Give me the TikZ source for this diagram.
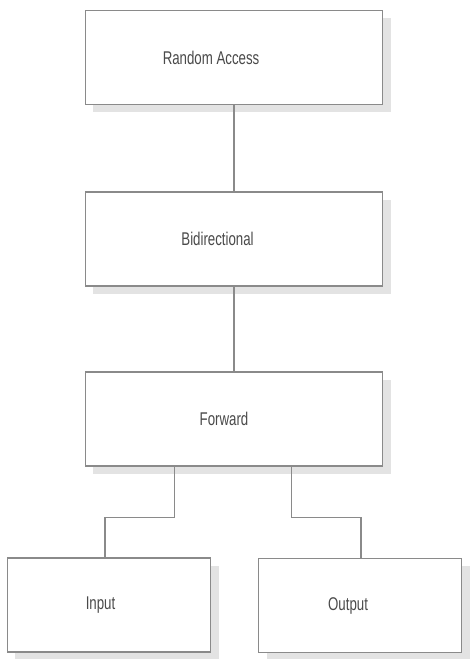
\documentclass[tikz,border=0pt]{standalone}
\usepackage{fontspec}
\newfontfamily\diagfont[FakeStretch=0.72]{Liberation Sans}
\usetikzlibrary{shadows}
\definecolor{edgegray}{HTML}{8A8A8A}
\definecolor{textgray}{HTML}{4A4A4A}
\tikzset{
  box/.style={draw=edgegray,line width=1.2bp,fill=white,minimum width=297bp,
    minimum height=94bp,inner sep=0pt,
    drop shadow={shadow xshift=8bp,shadow yshift=-8bp,fill=black!22}},
  smallbox/.style={box,minimum width=203bp},
  boxtext/.style={font=\diagfont\fontsize{18.5}{21}\selectfont,text=textgray},
  link/.style={draw=edgegray,line width=1.2bp}
}
\begin{document}
\begin{tikzpicture}[x=1bp,y=1bp]
  \useasboundingbox (0,0) rectangle (470,659);

  % access levels
  \node[box] (ra) at (234,601.5) {};
  \node[box] (bi) at (234,420) {};
  \node[box] (fw) at (234,240) {};
  \node[boxtext] (ratext) at ([xshift=-23]ra.center) {Random Access};
  \node[boxtext] (bitext) at ([xshift=-16.5]bi.center) {Bidirectional};
  \node[boxtext] (fwtext) at ([xshift=-10]fw.center) {Forward};

  % input / output
  \node[smallbox] (in) at (109,54) {};
  \node[smallbox] (out) at (360,53.5) {};
  \node[boxtext] (intext) at ([xshift=-8.5]in.center) {Input};
  \node[boxtext] (outtext) at ([xshift=-12]out.center) {Output};

  \draw[link] (ra) -- (bi);
  \draw[link] (bi) -- (fw);
  \draw[link] ([xshift=-60]fw.south) -- ++(0,-51) -| ([xshift=-4]in.north);
  \draw[link] ([xshift=58]fw.south) -- ++(0,-51) -| ([xshift=1]out.north);
\end{tikzpicture}
\end{document}
